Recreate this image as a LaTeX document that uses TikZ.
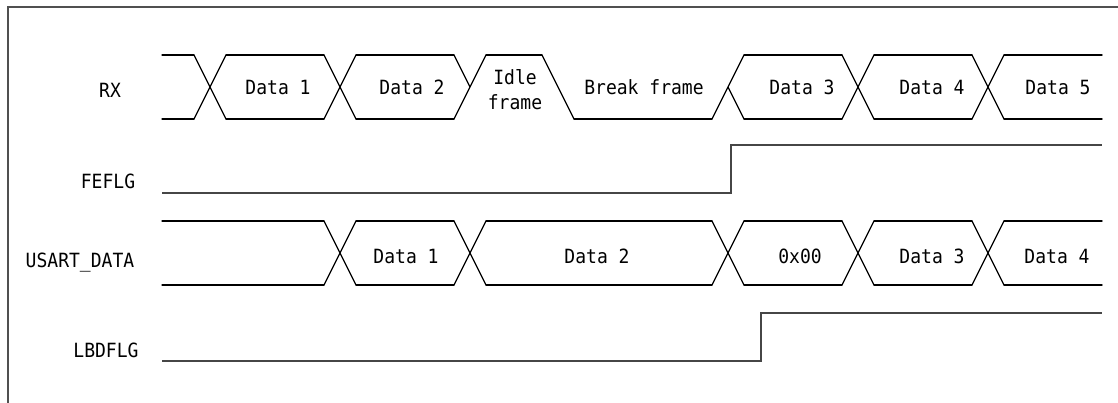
\documentclass[tikz,border=0pt]{standalone}
\usepackage{fontspec}
\usepackage{xcolor}
\usetikzlibrary{positioning,calc}
\newfontfamily\sigfont[FakeStretch=0.92]{DejaVu Sans Mono}
\newcommand{\sigsize}{\sigfont\fontsize{19.6}{25}\selectfont}
\definecolor{framegray}{RGB}{80,80,80}
\definecolor{flaggray}{RGB}{70,70,70}
\tikzset{
	wave/.style={line width=1.3pt, line cap=round},
	flagline/.style={line width=2pt, draw=flaggray},
	txt/.style={font=\sigsize, anchor=base, inner sep=0pt},
}

\begin{document}
\begin{tikzpicture}[x=1pt,y=-1pt]
	\useasboundingbox (0,0) rectangle (1118,403);
	\draw[line width=2.5pt,framegray] (8,403)--(8,7)--(1118,7);
	
	% RX
	\foreach \a/\b in {162/194,226/324,356/454,486/542,744/842,874/972,1004/1102}
		\draw[wave] (\a,55)--(\b,55);
	\foreach \a/\b in {162/194,226/324,356/454,574/712,744/842,874/972,1004/1102}
		\draw[wave] (\a,119)--(\b,119);
	\foreach \c in {210,340,858,988}
		\draw[wave] (\c-16,55)--(\c+16,119) (\c-16,119)--(\c+16,55);
	\draw[wave] (454,119)--(486,55) (454,55)--(470,87);
	\draw[wave] (542,55)--(574,119);
	\draw[wave] (712,119)--(744,55) (728,87)--(744,119);
	
	% FEFLG
	\draw[flagline] (162,193)--(731,193)--(731,145)--(1102,145);
	
	% USART_DATA
	\foreach \a/\b in {162/324,356/454,486/712,744/842,874/972,1004/1102}
		\draw[wave] (\a,221)--(\b,221) (\a,285)--(\b,285);
	\foreach \c in {340,470,728,858,988}
		\draw[wave] (\c-16,221)--(\c+16,285) (\c-16,285)--(\c+16,221);
	\draw[line width=1.9pt] (486,221)--(543,221) (575,285)--(583,285);
	
	% LBDFLG
	\draw[flagline] (162,361)--(761,361)--(761,313)--(1102,313);
	
	\node[txt] (rx) at (110,98) {RX};
	\node[txt] (fe) at (108,189) {FEFLG};
	\node[txt] (usart) at (80,267) {USART\_DATA};
	\node[txt] (lbd) at (106,357) {LBDFLG};
	
	\node[txt] (rxa) at (278,95) {Data 1};
	\node[txt] (rxb) at (412,95) {Data 2};
	\node[txt] (idlea) at (515,85) {Idle};
	\node[txt] (idleb) at (515,110) {frame};
	\node[txt] (brk) at (644,95) {Break frame};
	\node[txt] (rxc) at (802,95) {Data 3};
	\node[txt] (rxd) at (932,95) {Data 4};
	\node[txt] (rxe) at (1058,95) {Data 5};
	
	\node[txt] (uda) at (406,263) {Data 1};
	\node[txt] (udb) at (597,263) {Data 2};
	\node[txt] (udz) at (800,263) {0x00};
	\node[txt] (udc) at (932,263) {Data 3};
	\node[txt] (udd) at (1057,263) {Data 4};
\end{tikzpicture}
\end{document}
